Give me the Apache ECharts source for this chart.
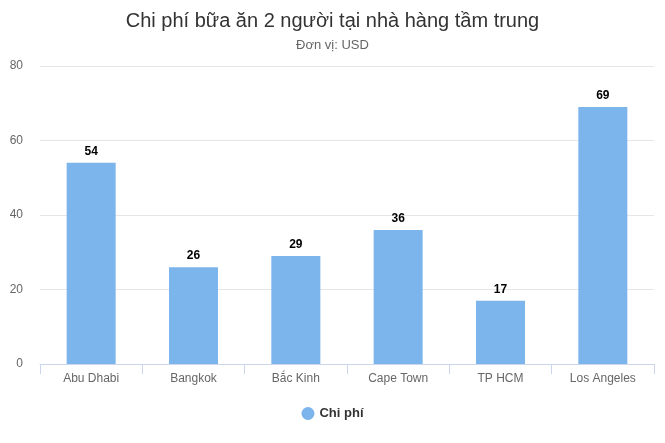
<!DOCTYPE html>
<html><head><meta charset="utf-8">
<script src="https://cdn.jsdelivr.net/npm/echarts@6/dist/echarts.min.js"></script>
<style>html,body{margin:0;padding:0;background:#fff}#c{width:665px;height:443px}</style>
</head><body><div id="c"></div>
<script>
const categories = ["Abu Dhabi", "Bangkok", "Bắc Kinh", "Cape Town", "TP HCM", "Los Angeles"];
const values = [54, 26, 29, 36, 17, 69];
const seriesName = "Chi phí";
const yTicks = [0, 20, 40, 60, 80];

const chart = echarts.init(document.getElementById('c'));
chart.setOption({
  animation: false,
  textStyle: { fontFamily: '"Liberation Sans", Arial, sans-serif' },
  title: [
    { text: "Chi phí bữa ăn 2 người tại nhà hàng tầm trung", left: 'center', top: 6,
      textStyle: { fontSize: 20, fontWeight: 'normal', color: '#333' } },
    { text: "Đơn vị: USD", left: 'center', top: 34,
      textStyle: { fontSize: 13, fontWeight: 'normal', color: '#666' } }
  ],
  legend: {
    bottom: 18, left: 'center', icon: 'circle', itemWidth: 13, itemHeight: 13,
    textStyle: { fontSize: 13, fontWeight: 'bold', color: '#333' },
    data: [seriesName]
  },
  grid: { left: 40, right: 11, top: 66, bottom: 79, containLabel: false },
  xAxis: {
    type: 'category', data: categories,
    axisLine: { lineStyle: { color: '#ccd6eb' } },
    axisTick: { show: true, length: 10, lineStyle: { color: '#ccd6eb' } },
    axisLabel: { color: '#666', fontSize: 12, margin: 9 }
  },
  yAxis: {
    type: 'value', min: yTicks[0], max: yTicks[yTicks.length - 1], interval: 20,
    axisLine: { show: false }, axisTick: { show: false },
    splitLine: { lineStyle: { color: '#e6e6e6' } },
    axisLabel: { color: '#666', fontSize: 12, margin: 17 }
  },
  series: [{
    name: seriesName, type: 'bar', data: values, barWidth: 49,
    itemStyle: { color: '#7cb5ec' },
    label: { show: true, position: 'top', fontSize: 12, fontWeight: 'bold', color: '#000', distance: 5 }
  }]
});
</script></body></html>
